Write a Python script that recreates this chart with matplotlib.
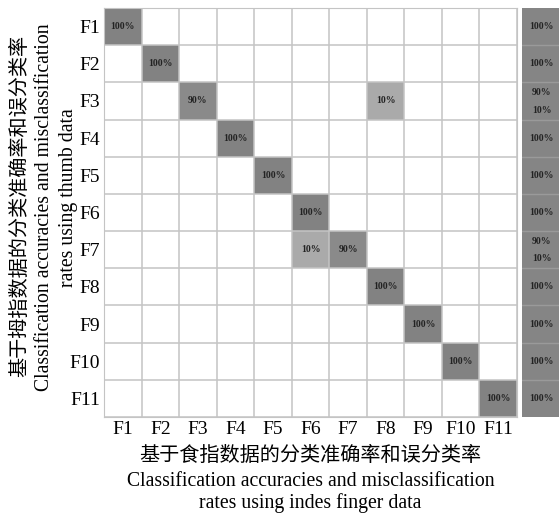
import numpy as np
import matplotlib.pyplot as plt
from matplotlib.colors import ListedColormap, BoundaryNorm

# ---------------- data ----------------
classes = ['F1', 'F2', 'F3', 'F4', 'F5', 'F6', 'F7', 'F8', 'F9', 'F10', 'F11']
# rows: thumb data (true), cols: index finger data
cm = np.zeros((11, 11))
for i in range(11):
    cm[i, i] = 100
cm[2, 2] = 90
cm[2, 7] = 10
cm[6, 6] = 90
cm[6, 5] = 10

# right strip: per-row results (top / bottom text)
strip_top = ['100%', '100%', '90%', '100%', '100%', '100%', '90%', '100%', '100%', '100%', '100%']
strip_bot = ['', '', '10%', '', '', '', '10%', '', '', '', '']

ylab = ['基于拇指数据的分类准确率和误分类率',
        'Classification accuracies and misclassification',
        'rates using thumb data']
xlab = ['基于食指数据的分类准确率和误分类率',
        'Classification accuracies and misclassification',
        'rates using indes finger data']

W, H = 559, 514
fig = plt.figure(figsize=(W / 100, H / 100), dpi=100)

serif = ['Liberation Serif', 'DejaVu Serif']
cjk = ['Noto Sans CJK SC', 'DejaVu Sans']

# ---------------- main grid ----------------
x0, x1, y0, y1 = 104, 517, 8, 417
ax = fig.add_axes([x0 / W, 1 - y1 / H, (x1 - x0) / W, (y1 - y0) / H])
cmap = ListedColormap(['#ffffff', '#aaaaaa', '#8a8a8a', '#828282'])
norm = BoundaryNorm([-1, 5, 50, 95, 101], cmap.N)
ax.pcolormesh(np.arange(12), np.arange(12), cm, cmap=cmap, norm=norm)
ax.set_xlim(0, 11)
ax.set_ylim(11, 0)
for k in range(12):
    ax.axhline(k, color='#c4c4c4', lw=1.1)
    ax.axvline(k, color='#c4c4c4', lw=1.1)
for sp in ax.spines.values():
    sp.set_color('#c4c4c4')
for i in range(11):
    for j in range(11):
        if cm[i, j] > 0:
            ax.text(j + 0.5, i + 0.5, f'{int(cm[i, j])}%', ha='center', va='center',
                    fontsize=7, fontweight='bold', family=serif, color='#222222')
ax.set_xticks(np.arange(11) + 0.5)
ax.set_xticklabels(classes, family=serif, fontsize=14)
ax.set_yticks(np.arange(11) + 0.5)
ax.set_yticklabels(classes, family=serif, fontsize=14)
ax.tick_params(length=0, pad=3)

# ---------------- right strip ----------------
sx0 = 522
ax2 = fig.add_axes([sx0 / W, 1 - y1 / H, (W - sx0 + 2) / W, (y1 - y0) / H])
ax2.pcolormesh([0, 1], np.arange(12), np.ones((11, 1)), cmap=ListedColormap(['#858585']))
ax2.set_xlim(0, 1)
ax2.set_ylim(11, 0)
for k in range(1, 11):
    ax2.axhline(k, color='#9a9a9a', lw=1)
for i in range(11):
    if strip_bot[i]:
        ax2.text(0.5, i + 0.28, strip_top[i], ha='center', va='center', fontsize=7,
                 fontweight='bold', family=serif, color='#222222')
        ax2.text(0.5, i + 0.75, strip_bot[i], ha='center', va='center', fontsize=7,
                 fontweight='bold', family=serif, color='#222222')
    else:
        ax2.text(0.5, i + 0.5, strip_top[i], ha='center', va='center', fontsize=7,
                 fontweight='bold', family=serif, color='#222222')
ax2.set_xticks([])
ax2.set_yticks([])
for sp in ax2.spines.values():
    sp.set_visible(False)

# ---------------- axis titles ----------------
fig.text(20 / W, 1 - 206 / H, ylab[0], rotation=90, ha='center', va='center',
         family=cjk, fontsize=14.5)
fig.text(45 / W, 1 - 207 / H, ylab[1], rotation=90, ha='center', va='center',
         family=serif, fontsize=14.2)
fig.text(68 / W, 1 - 198 / H, ylab[2], rotation=90, ha='center', va='center',
         family=serif, fontsize=14.2)

fig.text(310 / W, 1 - 455 / H, xlab[0], ha='center', va='center', family=cjk, fontsize=14.5)
fig.text(311 / W, 1 - 481 / H, xlab[1], ha='center', va='center', family=serif, fontsize=14.2)
fig.text(310 / W, 1 - 503 / H, xlab[2], ha='center', va='center', family=serif, fontsize=14.2)

fig.savefig('out.png', dpi=100)
